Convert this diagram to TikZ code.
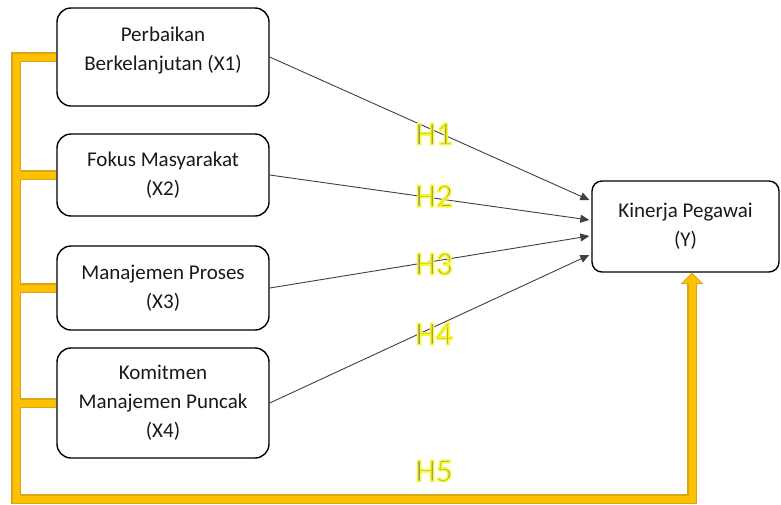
\documentclass[tikz,border=0pt]{standalone}
\usepackage{fontspec}
\setmainfont{Carlito}
\usetikzlibrary{arrows.meta,calc}
\definecolor{gold}{RGB}{255,192,0}
\definecolor{golddark}{RGB}{214,166,20}
\definecolor{hgray}{RGB}{150,150,90}
\tikzset{
  varbox/.style={draw=black, line width=1.4pt, rounded corners=14pt, align=center,
    font=\fontsize{21}{29}\selectfont, text=black!90, inner sep=0pt},
  link/.style={draw=black!75, line width=0.9pt, -{Triangle[length=9pt,width=8pt]}},
  hlabel/.style={font=\fontsize{33}{36}\selectfont, inner sep=0pt},
  goldout/.style={draw=golddark, line width=9.5pt},
  goldin/.style={draw=gold, line width=7pt},
}
\newcommand{\hyp}[1]{\textcolor{hgray}{\special{pdf:literal direct 0.97 0.97 0.2 RG 1.6 w 2 Tr}#1\special{pdf:literal direct 0 Tr}}}
\begin{document}
\begin{tikzpicture}[x=1pt,y=-1pt]
\useasboundingbox (0,0) rectangle (781,504);
\node[varbox, minimum width=212pt, minimum height=98pt] (X1) at (163,57) {Perbaikan\\Berkelanjutan (X1)\\[-12pt]\mbox{}};
\node[varbox, minimum width=212pt, minimum height=82pt] (X2) at (163,175) {Fokus Masyarakat\\(X2)};
\node[varbox, minimum width=212pt, minimum height=84pt] (X3) at (163,288) {Manajemen Proses\\(X3)};
\node[varbox, minimum width=212pt, minimum height=110pt] (X4) at (163,403) {Komitmen\\Manajemen Puncak\\(X4)};
\node[varbox, rounded corners=10pt, minimum width=187pt, minimum height=91pt] (Y) at (685.5,226.5) {Kinerja Pegawai\\(Y)};
\coordinate (bl) at (16,499);
\coordinate (br) at (692,499);
% yellow connector (outline layer then fill layer)
\foreach \st in {goldout,goldin}{
  \draw[\st, line join=miter, line cap=butt] (X1.west) -- (X1.west -| bl) -- (bl) -- (br) -- ($(br |- Y.south)+(0,10)$);
  \draw[\st] (X2.west) -- (X2.west -| bl);
  \draw[\st] (X3.west) -- (X3.west -| bl);
  \draw[\st] (X4.west) -- (X4.west -| bl);
}
\fill[golddark] ($(br |- Y.south)+(-11.5,11.5)$) -- ($(br |- Y.south)+(0,0)$) -- ($(br |- Y.south)+(11.5,11.5)$) -- cycle;
\fill[gold] ($(br |- Y.south)+(-9.5,10.3)$) -- ($(br |- Y.south)+(0,1.6)$) -- ($(br |- Y.south)+(9.5,10.3)$) -- cycle;
\fill[gold] ($(br |- Y.south)+(-3.5,9)$) rectangle ($(br |- Y.south)+(3.5,14)$);
% black arrows
\draw[link] (X1.east) -- ($(Y.west)+(-2,-26.5)$);
\draw[link] (X2.east) -- ($(Y.west)+(-2,-6.5)$);
\draw[link] (X3.east) -- ($(Y.west)+(-2,9.5)$);
\draw[link] (X4.east) -- ($(Y.west)+(-2,28.5)$);
% labels
\node[hlabel] (H1) at (434,134) {\hyp{H1}};
\node[hlabel] (H2) at (434,196) {\hyp{H2}};
\node[hlabel] (H3) at (434,264) {\hyp{H3}};
\node[hlabel] (H4) at (434,334) {\hyp{H4}};
\node[hlabel] (H5) at (434,471) {\hyp{H5}};
\end{tikzpicture}
\end{document}
